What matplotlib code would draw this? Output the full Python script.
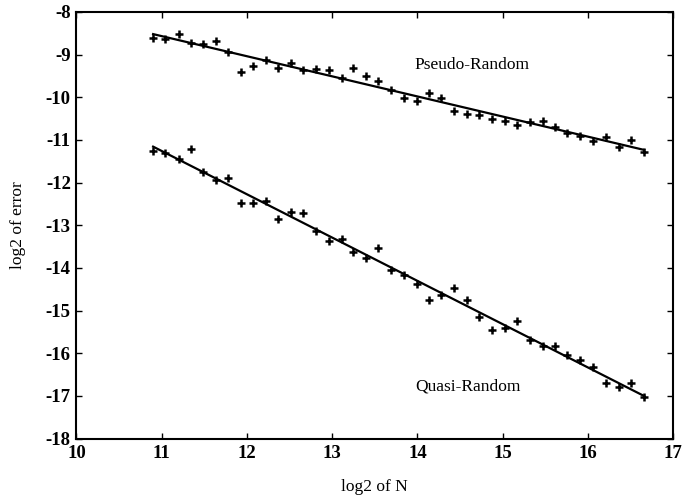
import numpy as np
import matplotlib.pyplot as plt

# log2 of N (same sample sizes for both series)
log2_n = [10.90, 11.04, 11.20, 11.34, 11.48, 11.64, 11.78, 11.93, 12.07, 12.22,
          12.37, 12.52, 12.66, 12.81, 12.96, 13.11, 13.25, 13.40, 13.54, 13.69,
          13.84, 13.99, 14.14, 14.28, 14.43, 14.58, 14.72, 14.87, 15.03, 15.17,
          15.32, 15.47, 15.61, 15.76, 15.91, 16.06, 16.21, 16.36, 16.51, 16.66]

pseudo_err = [-8.62, -8.64, -8.52, -8.72, -8.76, -8.68, -8.93, -9.40, -9.27, -9.12,
              -9.32, -9.20, -9.36, -9.34, -9.36, -9.55, -9.32, -9.50, -9.61, -9.84,
              -10.01, -10.09, -9.89, -10.02, -10.31, -10.39, -10.41, -10.51, -10.55, -10.65,
              -10.57, -10.55, -10.69, -10.84, -10.91, -11.02, -10.94, -11.16, -11.00, -11.29]

quasi_err = [-11.27, -11.31, -11.45, -11.21, -11.76, -11.94, -11.90, -12.48, -12.48, -12.43,
             -12.86, -12.70, -12.72, -13.13, -13.36, -13.32, -13.63, -13.77, -13.54, -14.05,
             -14.16, -14.38, -14.75, -14.63, -14.46, -14.76, -15.16, -15.45, -15.41, -15.24,
             -15.70, -15.84, -15.83, -16.04, -16.17, -16.33, -16.70, -16.80, -16.70, -17.02]

plt.rcParams['font.family'] = ['Liberation Serif', 'DejaVu Serif']
plt.rcParams['axes.unicode_minus'] = False

fig = plt.figure(figsize=(6.82, 5), dpi=100)
ax = fig.add_axes([0.112, 0.123, 0.875, 0.853])

x = np.array(log2_n)
for err in (pseudo_err, quasi_err):
    y = np.array(err)
    ax.plot(x, y, '+', color='black', markersize=5.5, markeredgewidth=1.8)
    slope, icpt = np.polyfit(x, y, 1)
    ax.plot(x[[0, -1]], slope * x[[0, -1]] + icpt, color='black', linewidth=1.6)

ax.text(13.97, -9.24, 'Pseudo-Random', fontsize=12.5, va='center')
ax.text(13.98, -16.77, 'Quasi-Random', fontsize=12.5, va='center')

ax.set_xlim(10, 17)
ax.set_ylim(-18, -8)
ax.set_xticks(range(10, 18))
ax.set_yticks(range(-18, -7))
ax.tick_params(direction='in', length=4, width=1, top=True, right=True,
               labelsize=13.5)
ax.tick_params(axis='x', pad=5)
ax.tick_params(axis='y', pad=4)
for lbl in ax.get_xticklabels() + ax.get_yticklabels():
    lbl.set_fontweight('bold')
for s in ax.spines.values():
    s.set_linewidth(1.5)

ax.set_xlabel('log2 of N', fontsize=12.5, labelpad=12)
ax.set_ylabel('log2 of error', fontsize=12.5, labelpad=14)

fig.savefig('out.png', dpi=100)
